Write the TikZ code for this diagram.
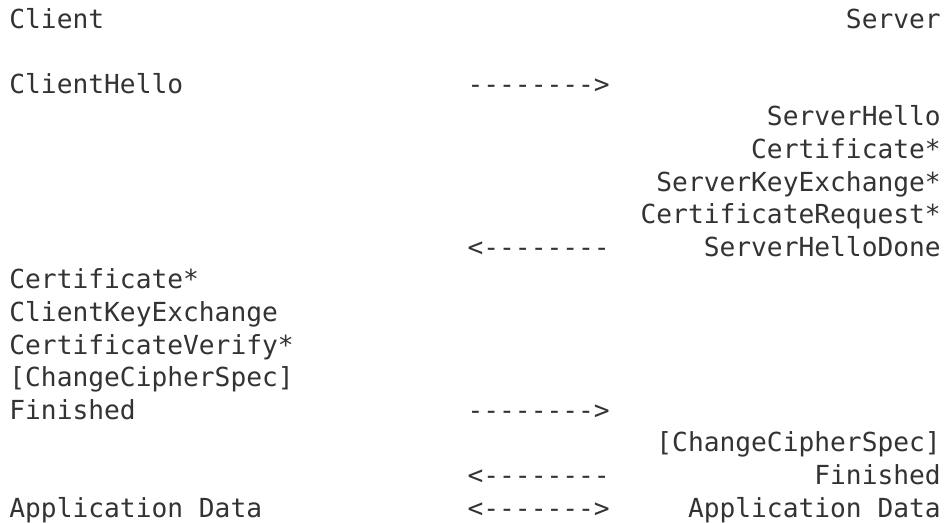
\documentclass[tikz,border=0pt]{standalone}
\usepackage{fontspec}
\usepackage{xcolor}
\usepackage{tikz}
\usetikzlibrary{positioning}
\newfontfamily\tlsmono{DejaVu Sans Mono}
\definecolor{ink}{HTML}{333333}
\tikzset{
    msg/.style={inner sep=0pt, text=ink, font=\tlsmono\fontsize{13.12}{16}\selectfont},
    client/.style={msg, anchor=base west},
    server/.style={msg, anchor=base east},
    flow/.style={msg, anchor=base west}
}

\begin{document}
\begin{tikzpicture}[x=7.9pt, y=-16.3pt]
    \useasboundingbox (-0.57,-0.86) rectangle (59.37,15.18);

    % Headers
    \node[client] at (0,0) (cl) {Client};
    \node[server] at (59,0) (sv) {Server};

    % Hello phase
    \node[client] at (0,2) (chello) {ClientHello};
    \node[flow] at (29,2) (f1) {-------->};
    \node[server] at (59,3) (shello) {ServerHello};
    \node[server] at (59,4) (scert) {Certificate*};
    \node[server] at (59,5) (ske) {ServerKeyExchange*};
    \node[server] at (59,6) (creq) {CertificateRequest*};
    \node[flow] at (29,7) (f2) {<--------};
    \node[server] at (59,7) (sdone) {ServerHelloDone};

    % Client key exchange
    \node[client] at (0,8) (ccert) {Certificate*};
    \node[client] at (0,9) (cke) {ClientKeyExchange};
    \node[client] at (0,10) (cver) {CertificateVerify*};
    \node[client] at (0,11) (cccs) {[ChangeCipherSpec]};
    \node[client] at (0,12) (cfin) {Finished};
    \node[flow] at (29,12) (f3) {-------->};

    % Server finish
    \node[server] at (59,13) (sccs) {[ChangeCipherSpec]};
    \node[flow] at (29,14) (f4) {<--------};
    \node[server] at (59,14) (sfin) {Finished};

    % Data
    \node[client] at (0,15) (cdata) {Application Data};
    \node[flow] at (29,15) (f5) {<------->};
    \node[server] at (59,15) (sdata) {Application Data};
\end{tikzpicture}
\end{document}
